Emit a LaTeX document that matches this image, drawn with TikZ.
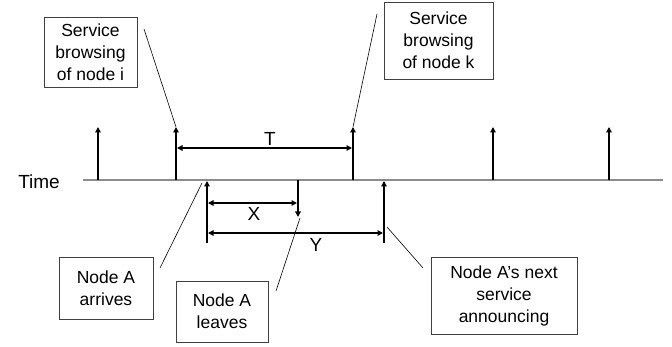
\documentclass[tikz,border=0pt]{standalone}
\usepackage{fontspec}
\setmainfont{Liberation Sans}
\usetikzlibrary{arrows.meta}
\begin{document}
\begin{tikzpicture}[x=1pt,y=-1pt,
  box/.style={draw=black!75,line width=0.8pt,align=center,inner sep=0pt,font=\fontsize{17.5}{22}\selectfont},
  lbl/.style={font=\fontsize{19}{22}\selectfont,inner sep=0pt},
  tick/.style={line width=2pt,-{Triangle[length=5.5pt,width=5.5pt]}},
  span/.style={line width=2pt,{Triangle[length=5.5pt,width=5.5pt]}-{Triangle[length=5.5pt,width=5.5pt]}},
  call/.style={line width=0.6pt}]
\useasboundingbox (0,0) rectangle (672,347);
% timeline
\coordinate (t0) at (83,180);
\coordinate (t1) at (663,180);
\draw[black!45,line width=1.4pt] (t0) -- (t1);
\node[lbl,anchor=east] (time) at (60,182) {Time};
% browsing ticks
\foreach \i/\x in {1/98,2/176,3/353,4/493,5/609}{
  \coordinate (b\i) at (\x,180);
  \coordinate (u\i) at (\x,127);
  \draw[tick] (b\i) -- (u\i);
}
% T span
\coordinate (ta) at (177,148);
\coordinate (tb) at (352,148);
\draw[span] (ta) -- (tb);
\node[lbl] (T) at (270,139) {T};
% Node A arrives / leaves / next
\coordinate (arrB) at (207,243);
\coordinate (arrT) at (207,181);
\draw[tick] (arrB) -- (arrT);
\coordinate (levT) at (298,180);
\coordinate (levB) at (298,217);
\draw[tick] (levT) -- (levB);
\coordinate (nxtB) at (384,243);
\coordinate (nxtT) at (384,181);
\draw[tick] (nxtB) -- (nxtT);
\coordinate (xa) at (208,203);
\coordinate (xb) at (297,203);
\draw[span] (xa) -- (xb);
\node[lbl] (X) at (254,214) {X};
\coordinate (ya) at (208,233);
\coordinate (yb) at (383,233);
\draw[span] (ya) -- (yb);
\node[lbl] (Y) at (316,245) {Y};
% boxes
\node[box,minimum width=93pt,minimum height=70pt] (bi) at (90.5,52) {Service\\browsing\\of node i};
\node[box,minimum width=109pt,minimum height=77pt] (bk) at (438.5,40.5) {Service\\browsing\\of node k};
\node[box,minimum width=94pt,minimum height=62pt] (ba) at (106,288) {Node A\\arrives};
\node[box,minimum width=92pt,minimum height=61pt] (bl) at (222,311.5) {Node A\\leaves};
\node[box,minimum width=146pt,minimum height=77pt] (bn) at (504,295.5) {Node A’s next\\service\\announcing};
% callout lines
\coordinate (ci) at (144,29);
\draw[call] (ci) -- (u2);
\coordinate (ck) at (377,14);
\draw[call] (ck) -- (u3);
\coordinate (ca) at (160,268);
\coordinate (ca2) at (202,183);
\draw[call] (ca) -- (ca2);
\coordinate (cl) at (276,291);
\coordinate (cl2) at (300,218);
\draw[call] (cl) -- (cl2);
\coordinate (cn) at (423,268);
\coordinate (cn2) at (387,227);
\draw[call] (cn) -- (cn2);
\end{tikzpicture}
\end{document}
